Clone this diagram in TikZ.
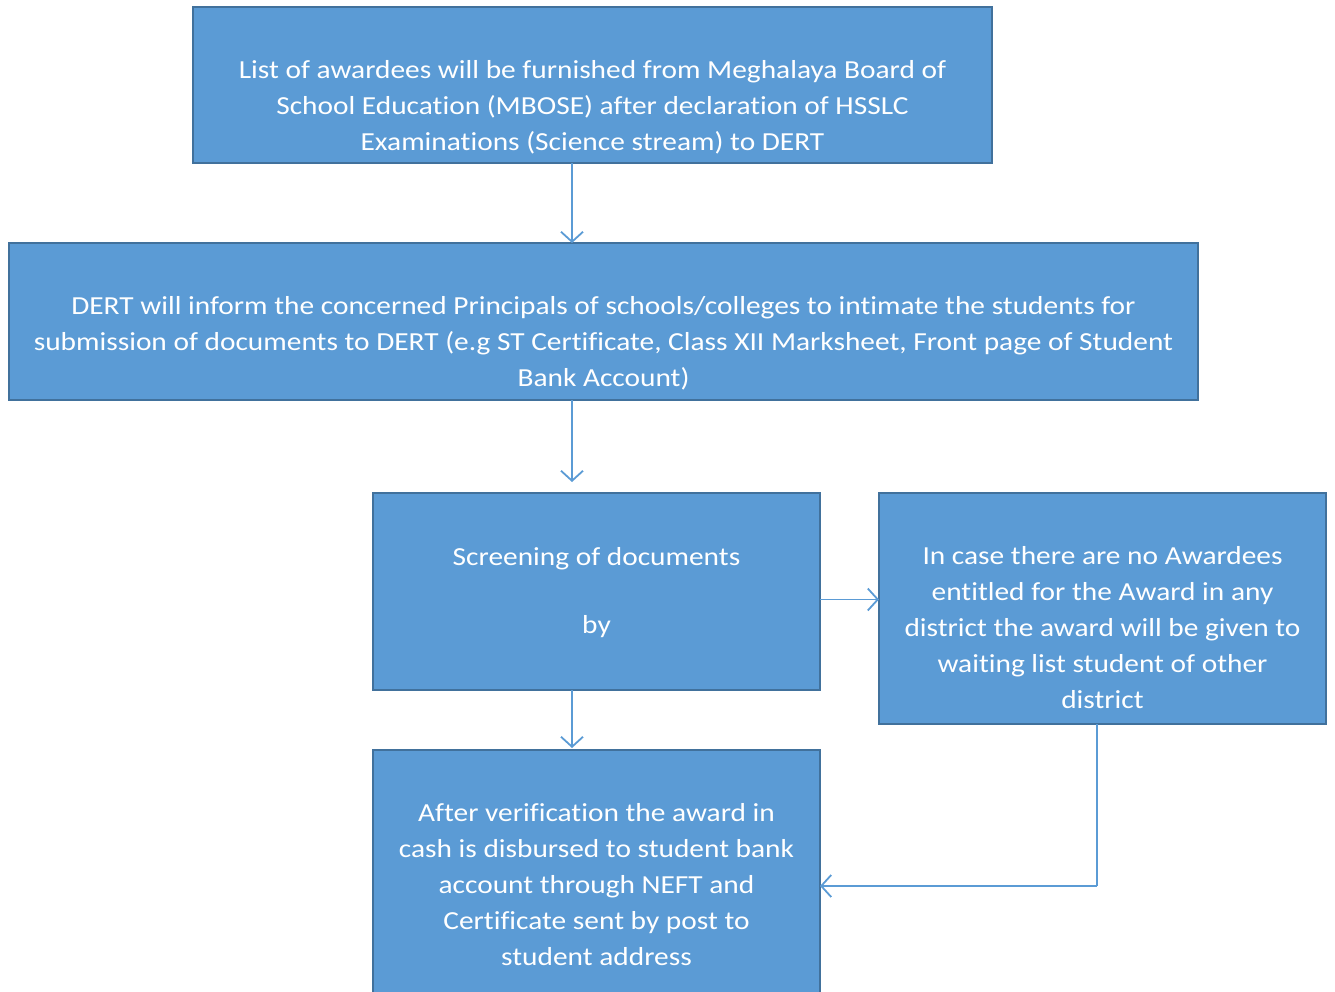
\documentclass[tikz,border=0pt]{standalone}
\usepackage{fontspec}
\setmainfont{Carlito}[FakeStretch=1.13,Ligatures={NoCommon}]
\usetikzlibrary{arrows.meta,calc}
\definecolor{boxfill}{HTML}{5B9BD5}
\definecolor{boxline}{HTML}{41719C}
\tikzset{
  box/.style={draw=boxline,line width=2.2pt,fill=boxfill,inner sep=0pt,outer sep=0pt,rectangle},
  txt/.style={text=white,align=center,inner sep=0pt,font=\fontsize{26}{36}\selectfont},
  arr/.style={draw=boxfill,line width=1.8pt,-{Straight Barb[length=10pt,width=22pt,line width=1.8pt]}},
  conn/.style={draw=boxfill,line width=1.8pt}
}
\begin{document}
\begin{tikzpicture}[x=1pt,y=-1pt]
\useasboundingbox (0,0) rectangle (1335,992);
\clip (0,0) rectangle (1335,992);
\node[box,minimum width=799pt,minimum height=156pt] (b1) at (592.5,85) {};
\node[box,minimum width=1189pt,minimum height=157pt] (b2) at (603.5,321.5) {};
\node[box,minimum width=447pt,minimum height=197pt] (b3) at (596.5,591.5) {};
\node[box,minimum width=447pt,minimum height=231pt] (b4) at (1102.5,608.5) {};
\node[box,minimum width=447pt,minimum height=272pt] (b5) at (596.5,886) {};
\node[txt] (t1) at (592.5,107) {List of awardees will be furnished from Meghalaya Board of\\School Education (MBOSE) after declaration of HSSLC\\Examinations (Science stream) to DERT};
\node[txt] (t2) at (603.5,343.5) {DERT will inform the concerned Principals of schools/colleges to intimate the students for\\submission of documents to DERT (e.g ST Certificate, Class XII Marksheet, Front page of Student\\Bank Account)};
\node[txt] (t3) at (596.5,593) {Screening of documents\\[32pt]by};
\node[txt] (t4) at (1102.5,627.5) {In case there are no Awardees\\entitled for the Award in any\\district the award will be given to\\waiting list student of other\\district};
\node[txt] (t5) at (596.5,884.5) {After verification the award in\\cash is disbursed to student bank\\account through NEFT and\\Certificate sent by post to\\student address};
\draw[arr] (b1.south -| 572,0) -- (b2.north -| 572,0);
\draw[arr] (b2.south -| 572,0) -- ([yshift=11pt]b3.north -| 572,0);
\draw[arr] ([yshift=-8pt]b3.east) -- ([yshift=-8pt]b3.east -| b4.west);
\draw[arr] (b3.south -| 572,0) -- ([yshift=2pt]b5.north -| 572,0);
\draw[conn] (b4.south -| 1097,0) -- (1097,886);
\draw[arr] (1097,886) -- (b5.east);
\end{tikzpicture}
\end{document}
